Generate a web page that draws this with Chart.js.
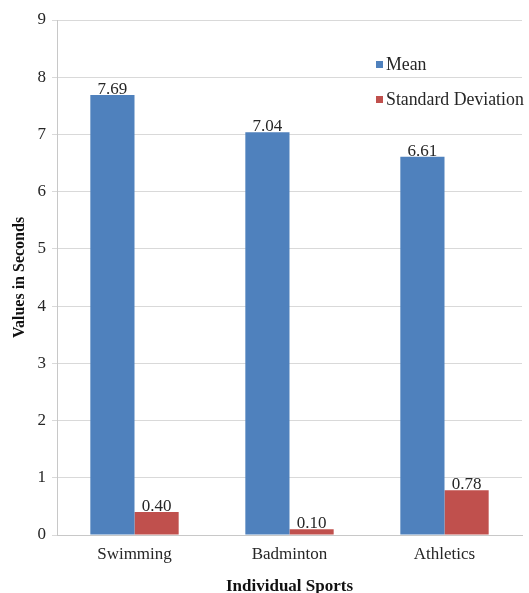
<!DOCTYPE html>
<html>
<head>
<meta charset="utf-8">
<script src="https://cdn.jsdelivr.net/npm/chart.js@4/dist/chart.umd.min.js"></script>
<style>
  html, body { margin: 0; padding: 0; background: #ffffff; }
  #wrap { width: 529px; height: 593px; position: relative; }
</style>
</head>
<body>
<div id="wrap"><canvas id="chart" width="529" height="593"></canvas></div>
<script>
// Reaction times per individual sport
const sports = ['Swimming', 'Badminton', 'Athletics'];
const meanValues = [7.69, 7.04, 6.61];
const sdValues = [0.40, 0.10, 0.78];
const seriesNames = ['Mean', 'Standard Deviation'];
const yTicks = [0, 1, 2, 3, 4, 5, 6, 7, 8, 9];

const SERIF = '"Liberation Serif", "Times New Roman", serif';
const TEXT = '#262626';

// Value printed on top of every bar
const barValueLabels = {
  id: 'barValueLabels',
  afterDatasetsDraw(chart) {
    const ctx = chart.ctx;
    ctx.save();
    ctx.font = '17px ' + SERIF;
    ctx.fillStyle = TEXT;
    ctx.textAlign = 'center';
    ctx.textBaseline = 'alphabetic';
    chart.data.datasets.forEach((ds, i) => {
      chart.getDatasetMeta(i).data.forEach((bar, j) => {
        ctx.fillText(ds.data[j].toFixed(2), bar.x, bar.y - 1);
      });
    });
    ctx.restore();
  }
};

// Stacked legend inside the upper right of the plot
const innerLegend = {
  id: 'innerLegend',
  afterDraw(chart) {
    const ctx = chart.ctx;
    const area = chart.chartArea;
    const x0 = area.right - 146;
    const rows = [area.top + 45, area.top + 80];
    ctx.save();
    ctx.font = '17.8px ' + SERIF;
    ctx.textBaseline = 'middle';
    ctx.textAlign = 'left';
    chart.data.datasets.forEach((ds, i) => {
      const y = rows[i];
      ctx.fillStyle = ds.backgroundColor;
      ctx.fillRect(x0, y - 4, 7, 7);
      ctx.fillStyle = TEXT;
      ctx.fillText(ds.label, x0 + 10, y);
    });
    ctx.restore();
  }
};

new Chart(document.getElementById('chart'), {
  type: 'bar',
  data: {
    labels: sports,
    datasets: [
      { label: seriesNames[0], data: meanValues, backgroundColor: '#4F81BD',
        categoryPercentage: 0.57, barPercentage: 1.0 },
      { label: seriesNames[1], data: sdValues, backgroundColor: '#C0504D',
        categoryPercentage: 0.57, barPercentage: 1.0 }
    ]
  },
  options: {
    responsive: false,
    animation: false,
    layout: { padding: { top: 20, right: 7, bottom: 0, left: 0 } },
    plugins: {
      legend: { display: false },
      tooltip: { enabled: false }
    },
    scales: {
      x: {
        grid: { display: false, drawTicks: false },
        border: { display: true, color: '#c8c8c8', width: 1 },
        ticks: { color: TEXT, font: { family: SERIF, size: 17 }, padding: 9 },
        title: {
          display: true, text: 'Individual Sports', color: '#111',
          font: { family: SERIF, size: 17, weight: 'bold', lineHeight: 0.8 },
          padding: { top: 0, bottom: 0 }
        },
        afterFit(scale) { scale.height = 58; }
      },
      y: {
        min: 0, max: 9,
        afterBuildTicks(scale) { scale.ticks = yTicks.map(v => ({ value: v })); },
        grid: { color: '#d9d9d9', drawTicks: true, tickLength: 5 },
        border: { display: true, color: '#c8c8c8', width: 1 },
        ticks: { color: TEXT, font: { family: SERIF, size: 17 }, padding: 6 },
        title: {
          display: true, text: 'Values in Seconds', color: '#111',
          font: { family: SERIF, size: 16, weight: 'bold', lineHeight: 1.2 },
          padding: { top: 10, bottom: 0 }
        },
        afterFit(scale) { scale.width = 57; }
      }
    }
  },
  plugins: [barValueLabels, innerLegend]
});
</script>
</body>
</html>
